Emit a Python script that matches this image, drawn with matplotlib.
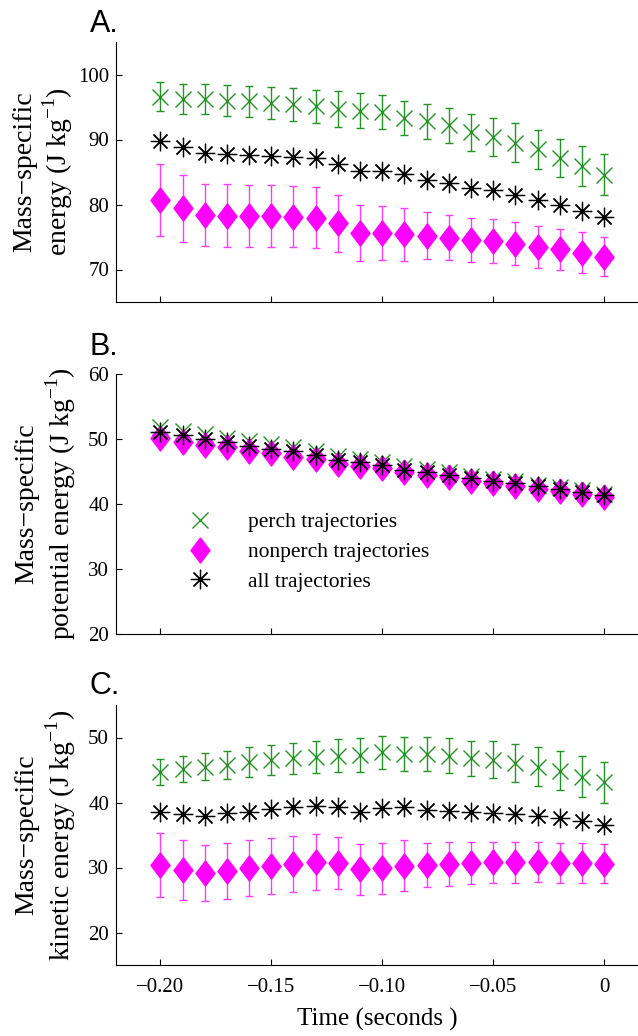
import numpy as np
import matplotlib
matplotlib.use("Agg")
import matplotlib.pyplot as plt
from matplotlib.legend_handler import HandlerTuple

plt.rcParams['font.family'] = ['Liberation Serif', 'DejaVu Serif']
plt.rcParams['mathtext.fontset'] = 'custom'
plt.rcParams['mathtext.rm'] = 'Liberation Serif'

# time before landing (s)
t = [-0.20, -0.19, -0.18, -0.17, -0.16, -0.15, -0.14, -0.13, -0.12, -0.11, -0.10,
     -0.09, -0.08, -0.07, -0.06, -0.05, -0.04, -0.03, -0.02, -0.01, 0.00]

# A. total mass-specific energy
tot_perch = [96.6, 96.3, 96.2, 96.0, 95.9, 95.6, 95.4, 95.1, 94.7, 94.4, 94.2,
             93.3, 92.8, 92.2, 91.1, 90.4, 89.5, 88.5, 87.2, 85.9, 84.6]
tot_perch_err = [2.2, 2.3, 2.3, 2.4, 2.4, 2.5, 2.6, 2.5, 2.7, 2.7, 2.6,
                 2.6, 2.7, 2.7, 2.8, 2.9, 3.0, 3.0, 2.9, 3.1, 3.1]
tot_non = [80.7, 79.4, 78.4, 78.3, 78.2, 78.2, 78.1, 78.0, 77.1, 75.6, 75.6,
           75.4, 75.2, 74.9, 74.6, 74.4, 74.0, 73.5, 73.1, 72.6, 72.0]
tot_non_err = [5.5, 5.2, 4.8, 4.8, 4.8, 4.8, 4.7, 4.7, 4.4, 4.3, 4.2,
               4.1, 3.6, 3.5, 3.4, 3.4, 3.3, 3.2, 3.1, 3.1, 3.0]
tot_all = [89.7, 88.8, 87.9, 87.7, 87.6, 87.4, 87.3, 87.2, 86.2, 85.1, 85.2,
           84.7, 83.7, 83.3, 82.5, 82.2, 81.5, 80.7, 80.0, 79.0, 78.1]

# B. potential energy
pot_perch = [51.8, 51.3, 50.7, 50.2, 49.7, 49.2, 48.7, 48.2, 47.4, 46.9, 46.5,
             45.8, 45.4, 44.9, 44.3, 43.9, 43.5, 43.0, 42.6, 42.1, 41.6]
pot_non = [50.1, 49.6, 49.1, 48.7, 48.2, 47.8, 47.3, 46.9, 46.2, 45.8, 45.5,
           44.9, 44.5, 44.1, 43.6, 43.2, 42.8, 42.3, 42.0, 41.6, 41.1]
pot_all = [51.1, 50.6, 50.0, 49.5, 49.0, 48.5, 48.1, 47.5, 46.8, 46.4, 46.0,
           45.3, 45.0, 44.5, 44.0, 43.6, 43.2, 42.7, 42.3, 41.9, 41.4]

# C. kinetic energy
kin_perch = [44.7, 45.1, 45.5, 45.8, 46.2, 46.5, 46.8, 47.0, 47.2, 47.3, 47.7,
             47.5, 47.5, 47.2, 46.8, 46.6, 46.1, 45.5, 44.9, 44.0, 43.1]
kin_perch_err = [2.0, 2.0, 2.1, 2.2, 2.3, 2.3, 2.4, 2.4, 2.5, 2.6, 2.5,
                 2.6, 2.6, 2.7, 2.7, 2.8, 2.9, 3.0, 3.0, 3.1, 3.1]
kin_non = [30.4, 29.6, 29.2, 29.5, 29.9, 30.2, 30.6, 30.9, 30.7, 29.7, 29.9,
           30.3, 30.4, 30.6, 30.7, 30.8, 30.8, 30.8, 30.7, 30.7, 30.6]
kin_non_err = [4.9, 4.6, 4.3, 4.3, 4.3, 4.3, 4.3, 4.3, 4.0, 3.9, 3.9,
               3.9, 3.4, 3.4, 3.3, 3.2, 3.2, 3.1, 3.1, 3.1, 3.0]
kin_all = [38.6, 38.3, 38.0, 38.4, 38.6, 39.0, 39.3, 39.5, 39.3, 38.5, 39.1,
           39.3, 38.8, 38.7, 38.5, 38.4, 38.2, 38.0, 37.6, 37.1, 36.6]

green = '#259225'
mag = '#ff00ff'
mag_err = '#ff3cff'
diamond = [(0, 1), (0.76, 0), (0, -1), (-0.76, 0), (0, 1)]

fig = plt.figure(figsize=(6.38, 10.36), dpi=100)
H = 260 / 1036
axA = fig.add_axes([116 / 638, 1 - 302 / 1036, 522 / 638, H])
axB = fig.add_axes([116 / 638, 1 - 634 / 1036, 522 / 638, H])
axC = fig.add_axes([116 / 638, 1 - 965 / 1036, 522 / 638, H])


def draw(ax, perch, non, allv, perch_err=None, non_err=None):
    if perch_err is not None:
        ax.errorbar(t, perch, yerr=perch_err, fmt='none', ecolor=green,
                    elinewidth=1.0, capsize=2.6, capthick=1.0)
    hp, = ax.plot(t, perch, ls='none', marker='x', ms=12, mew=1.0, color=green)
    if non_err is not None:
        ax.errorbar(t, non, yerr=non_err, fmt='none', ecolor=mag_err,
                    elinewidth=1.0, capsize=2.6, capthick=1.0)
    hn, = ax.plot(t, non, ls='none', marker=diamond, ms=18, color=mag, mec=mag)
    ha, = ax.plot(t, allv, ls='none', marker=(8, 2, 0), ms=14, mew=0.9, color='k')
    hd, = ax.plot(t, allv, ls='none', marker='o', ms=2.5, color='k')
    return hp, hn, (ha, hd)


draw(axA, tot_perch, tot_non, tot_all, tot_perch_err, tot_non_err)
handles = draw(axB, pot_perch, pot_non, pot_all)
draw(axC, kin_perch, kin_non, kin_all, kin_perch_err, kin_non_err)

xt = [-0.20, -0.15, -0.10, -0.05, 0]
for ax in (axA, axB, axC):
    ax.set_xlim(-0.22, 0.0153)
    ax.set_xticks(xt)
    ax.spines['top'].set_visible(False)
    ax.spines['right'].set_visible(False)
    ax.spines['left'].set_linewidth(0.8)
    ax.spines['bottom'].set_linewidth(0.8)
    ax.tick_params(direction='in', length=4, width=0.8, labelsize=15, pad=5)

axA.set_ylim(65, 105)
axA.set_yticks([70, 80, 90, 100])
axB.set_ylim(20, 60)
axB.set_yticks([20, 30, 40, 50, 60])
axC.set_ylim(15, 55)
axC.set_yticks([20, 30, 40, 50])
axA.set_xticklabels([])
axB.set_xticklabels([])
axC.set_xticklabels(['\u22120.20', '\u22120.15', '\u22120.10', '\u22120.05', '0'])
axC.tick_params(axis='x', pad=9)

sup = '$^{\\mathregular{-1}}$'
axA.set_ylabel('Mass\u2212specific\nenergy (J kg' + sup + ')', fontsize=20,
               linespacing=1.15)
axB.set_ylabel('Mass\u2212specific\npotential energy (J kg' + sup + ')',
               fontsize=20, linespacing=1.15)
axC.set_ylabel('Mass\u2212specific\nkinetic energy (J kg' + sup + ')',
               fontsize=20, linespacing=1.15)
axA.yaxis.set_label_coords(-0.078, 0.5)
axB.yaxis.set_label_coords(-0.073, 0.5)
axC.yaxis.set_label_coords(-0.073, 0.5)

axC.set_xlabel('Time (seconds )', fontsize=18, labelpad=8)

axB.legend(handles, ['perch trajectories', 'nonperch trajectories', 'all trajectories'],
           handler_map={tuple: HandlerTuple(ndivide=1, pad=0)},
           loc='center left', bbox_to_anchor=(0.13, 0.315), frameon=False,
           fontsize=15.5, handlelength=1.5, handletextpad=1.46, labelspacing=0.45,
           borderpad=0, borderaxespad=0)

for lab, yb in (('A.', 32), ('B.', 355), ('C.', 694)):
    fig.text(90 / 638, 1 - yb / 1036, lab, fontsize=22, family='Liberation Sans',
             va='baseline', ha='left')

fig.savefig('out.png', dpi=100)
